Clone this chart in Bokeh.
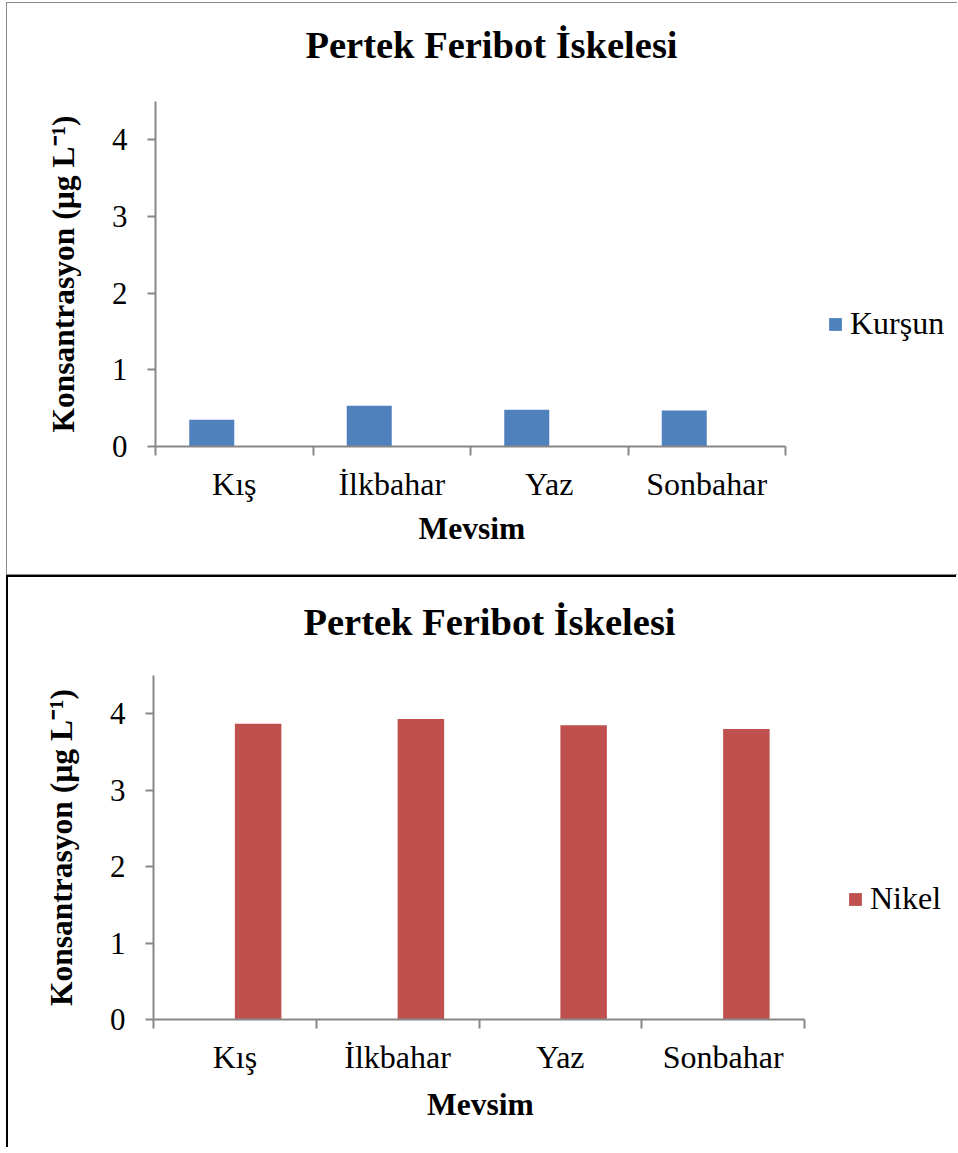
from bokeh.plotting import figure
from bokeh.models import (Range1d, FixedTicker, Legend, LegendItem, Title,
                          ColumnDataSource, LinearAxis)
from bokeh.transform import dodge
from bokeh.embed import file_html
from bokeh.resources import INLINE

# Seasonal heavy-metal concentrations (µg/L) at Pertek ferry pier
seasons = ["Kış", "İlkbahar", "Yaz", "Sonbahar"]
kursun = [0.35, 0.53, 0.48, 0.47]
nikel = [3.87, 3.93, 3.85, 3.80]
y_ticks = [0, 1, 2, 3, 4]

TITLE = "Pertek Feribot İskelesi"
X_LABEL = "Mevsim"
Y_LABEL = "Konsantrasyon (µg L⁻¹)"

FONT = "Liberation Serif"
AXIS_GRAY = "#878787"
BLUE = "#4F81BD"
RED = "#C0504D"

# Excel-style clustered bars: two series per category, gap width 150 %
BAR_W = 1 / 3.5
OFFSET = BAR_W / 2

n_cat = len(seasons)
centers = [i + 0.5 for i in range(n_cat)]

X_LABEL_HALF_W = 52  # half the rendered width of the bold x-axis title


def make_panel(values, series_name, color, shift, width, height,
               mb_left, axis_px, mb_top, mb_bottom, title_offset,
               title_gap, xlabel_gap, legend_loc, styles, margin):
    # the plot area runs to the right edge so the legend can sit inside it;
    # the category axis itself only covers the first axis_px pixels
    frame_px = width - mb_left
    x_end = n_cat * frame_px / axis_px

    src = ColumnDataSource(dict(x=centers, top=values, season=seasons))
    p = figure(width=width, height=height,
               x_range=Range1d(0, x_end), y_range=Range1d(0, 4.5),
               output_backend="svg", toolbar_location=None,
               min_border_left=mb_left, min_border_right=0,
               min_border_top=mb_top, min_border_bottom=mb_bottom,
               x_axis_type=None, y_axis_type=None,
               styles=styles, margin=margin)
    p.outline_line_color = None
    p.xgrid.visible = False
    p.ygrid.visible = False

    r = p.vbar(x=dodge("x", shift, range=p.x_range), top="top", width=BAR_W,
               source=src, fill_color=color, line_color=None)

    # category axis: labels at centres, tick marks on category boundaries
    xaxis = LinearAxis(
        ticker=FixedTicker(ticks=centers, minor_ticks=list(range(n_cat + 1))),
        major_label_overrides={c: s for c, s in zip(centers, seasons)},
        bounds=(0, n_cat))
    xaxis.major_tick_in = 0
    xaxis.major_tick_out = 0
    xaxis.major_tick_line_color = None
    xaxis.minor_tick_in = 0
    xaxis.minor_tick_out = 9
    xaxis.minor_tick_line_color = AXIS_GRAY
    xaxis.minor_tick_line_width = 2
    xaxis.major_label_standoff = 10
    p.add_layout(xaxis, "below")

    yaxis = LinearAxis(ticker=FixedTicker(ticks=y_ticks), axis_label=Y_LABEL)
    yaxis.major_tick_in = 0
    yaxis.major_tick_out = 8
    yaxis.major_tick_line_color = AXIS_GRAY
    yaxis.major_tick_line_width = 2
    yaxis.minor_tick_line_color = None
    yaxis.major_label_standoff = 20
    yaxis.axis_label_standoff = 28
    p.add_layout(yaxis, "left")

    for ax in (xaxis, yaxis):
        ax.axis_line_color = AXIS_GRAY
        ax.axis_line_width = 2
        ax.major_label_text_font = FONT
        ax.major_label_text_font_size = "32px"
        ax.major_label_text_color = "black"
        ax.axis_label_text_font = FONT
        ax.axis_label_text_font_size = "31.5px"
        ax.axis_label_text_font_style = "bold"
        ax.axis_label_text_color = "black"
    yaxis.major_label_text_font_size = "31px"

    # x-axis title, centred under the category axis
    p.add_layout(Title(text=X_LABEL, align="left",
                       offset=axis_px / 2 - X_LABEL_HALF_W,
                       text_font=FONT, text_font_size="31.5px",
                       text_font_style="bold", text_color="black",
                       standoff=xlabel_gap), "below")

    # spacer between chart title and plot area, then the title itself
    p.add_layout(Title(text=" ", text_font_size="1px", standoff=title_gap),
                 "above")
    p.add_layout(Title(text=TITLE, align="left", offset=title_offset,
                       text_font=FONT, text_font_size="38.5px",
                       text_font_style="bold", text_color="black",
                       standoff=10), "above")

    legend = Legend(items=[LegendItem(label=series_name, renderers=[r])],
                    location=legend_loc, padding=0, margin=0,
                    glyph_width=16, glyph_height=16, label_standoff=7,
                    label_text_font=FONT, label_text_font_size="32px",
                    label_text_color="black",
                    border_line_color=None, background_fill_alpha=0)
    p.add_layout(legend, "center")
    return p


top = make_panel(kursun, "Kurşun", BLUE, -OFFSET, 951, 573,
                 148, 630, 98, 130, 150, 28, 8, (672, 104),
                 {"border-left": "1px solid #8a8a8a",
                  "border-top": "1px solid #8a8a8a",
                  "border-bottom": "1px solid #8a8a8a"},
                 (2, 0, 0, 6))
bottom = make_panel(nikel, "Nikel", RED, OFFSET, 950, 572,
                    145, 651, 98, 130, 150, 25, 14, (694, 102),
                    {"border-left": "2px solid black",
                     "border-top": "2px solid black"},
                    (0, 0, 0, 6))

with open("out.html", "w") as f:
    f.write(file_html([top, bottom], INLINE, title="Pertek Feribot İskelesi"))
